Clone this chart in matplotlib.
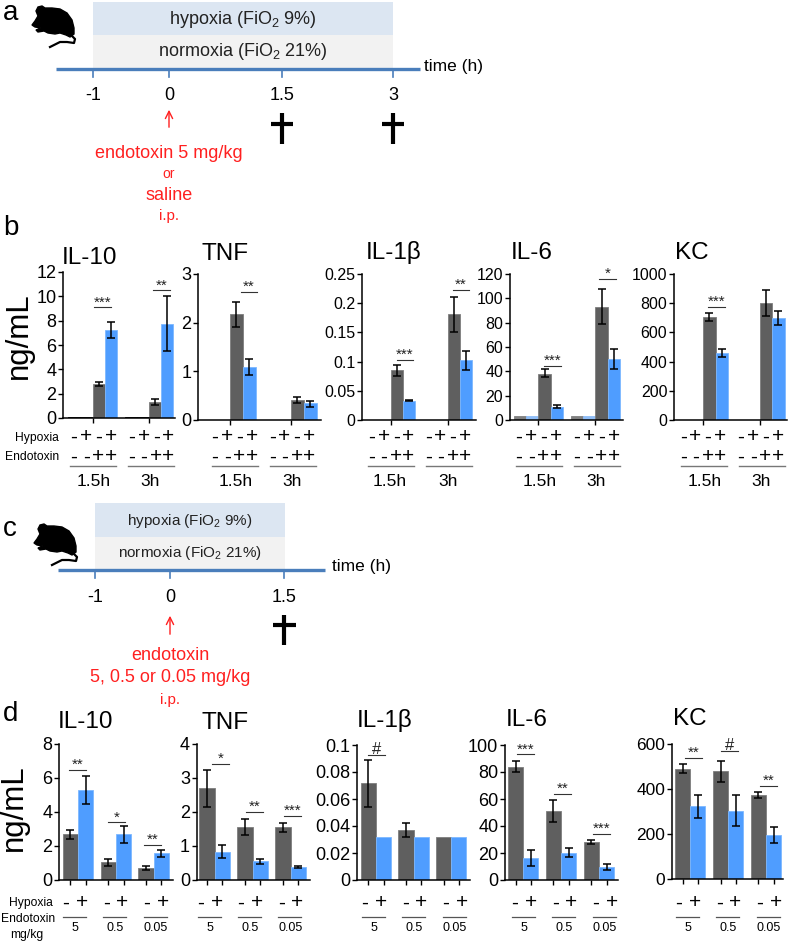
'''
Cytokines after endotoxin under hypoxia / normoxia
'''
import numpy as np
import matplotlib.pyplot as plt
from matplotlib.patches import Polygon, Rectangle

plt.rcParams[ 'font.family' ] = [ 'Liberation Sans', 'DejaVu Sans' ]
plt.rcParams[ 'mathtext.fontset' ] = 'custom'
plt.rcParams[ 'mathtext.rm' ] = 'Liberation Sans'
plt.rcParams[ 'mathtext.default' ] = 'rm'

W, H = 790, 942
GRAY, BLUE = '#5f5f5f', '#4f9dff'
GRAY_ND, BLUE_ND = '#808080', '#8fbdf7'
RED = '#ff2020'
LINE = '#4a7ebb'

# panel b : values are gray/blue pairs, 1.5h then 3h
b_names  = [ 'IL-10', 'TNF', 'IL-1β', 'IL-6', 'KC' ]
b_values = [ [ 0.1, 0.1, 2.8, 7.2, 0.1, 0.1, 1.3, 7.75 ],
             [ 0, 0, 2.17, 1.09, 0, 0, 0.41, 0.34 ],
             [ 0, 0, 0.085, 0.033, 0, 0, 0.181, 0.103 ],
             [ 3.5, 3.5, 38, 11, 3.5, 3.5, 93, 50 ],
             [ 0, 0, 705, 458, 0, 0, 800, 698 ] ]
b_low    = [ [ 0.1, 0.1, 2.6, 6.55, 0.1, 0.1, 1.05, 5.5 ],
             [ 0, 0, 1.92, 0.92, 0, 0, 0.34, 0.27 ],
             [ 0, 0, 0.076, 0.032, 0, 0, 0.151, 0.086 ],
             [ 3.5, 3.5, 35, 9.7, 3.5, 3.5, 79, 42 ],
             [ 0, 0, 675, 430, 0, 0, 710, 650 ] ]
b_high   = [ [ 0.1, 0.1, 3.0, 7.9, 0.1, 0.1, 1.55, 10.0 ],
             [ 0, 0, 2.42, 1.26, 0, 0, 0.47, 0.4 ],
             [ 0, 0, 0.094, 0.034, 0, 0, 0.211, 0.118 ],
             [ 3.5, 3.5, 42, 12.2, 3.5, 3.5, 108, 58 ],
             [ 0, 0, 735, 485, 0, 0, 893, 745 ] ]
b_ylim   = [ 12, 3, 0.25, 120, 1000 ]
b_ticks  = [ [ 0, 2, 4, 6, 8, 10, 12 ], [ 0, 1, 2, 3 ],
             [ 0, 0.05, 0.1, 0.15, 0.2, 0.25 ],
             [ 0, 20, 40, 60, 80, 100, 120 ],
             [ 0, 200, 400, 600, 800, 1000 ] ]
b_sig    = [ [ ( 0, 9.1, '***' ), ( 1, 10.5, '**' ) ],
             [ ( 0, 2.63, '**' ) ],
             [ ( 0, 0.103, '***' ), ( 1, 0.2226, '**' ) ],
             [ ( 0, 44.4, '***' ), ( 1, 116, '*' ) ],
             [ ( 0, 776, '***' ) ] ]
b_hypoxia   = [ '-', '+', '-', '+' ]
b_endotoxin = [ '-', '-', '+', '+' ]
b_times     = [ '1.5h', '3h' ]

# panel d : gray/blue pairs for 5, 0.5, 0.05 mg/kg
d_names  = [ 'IL-10', 'TNF', 'IL-1β', 'IL-6', 'KC' ]
d_values = [ [ 2.7, 5.3, 1.05, 2.7, 0.7, 1.58 ],
             [ 2.7, 0.83, 1.55, 0.55, 1.55, 0.38 ],
             [ 0.072, 0.032, 0.037, 0.032, 0.032, 0.032 ],
             [ 84, 16.5, 51, 20, 28, 9.5 ],
             [ 490, 325, 478, 303, 373, 195 ] ]
d_low    = [ [ 2.4, 4.5, 0.85, 2.2, 0.6, 1.35 ],
             [ 2.15, 0.65, 1.32, 0.47, 1.42, 0.35 ],
             [ 0.054, 0.032, 0.032, 0.032, 0.032, 0.032 ],
             [ 80, 10.5, 43, 17, 27, 7.5 ],
             [ 470, 273, 432, 235, 358, 158 ] ]
d_high   = [ [ 2.95, 6.1, 1.22, 3.2, 0.8, 1.78 ],
             [ 3.25, 1.03, 1.8, 0.63, 1.68, 0.41 ],
             [ 0.089, 0.032, 0.042, 0.032, 0.032, 0.032 ],
             [ 88, 22.5, 59.5, 23.5, 30, 12 ],
             [ 512, 375, 525, 373, 388, 233 ] ]
d_ylim   = [ 8, 4, 0.1, 100, 600 ]
d_ticks  = [ [ 0, 2, 4, 6, 8 ], [ 0, 1, 2, 3, 4 ],
             [ 0, 0.02, 0.04, 0.06, 0.08, 0.1 ],
             [ 0, 20, 40, 60, 80, 100 ], [ 0, 200, 400, 600 ] ]
d_sig    = [ [ ( 0, 6.47, '**' ), ( 1, 3.4, '*' ), ( 2, 2.05, '**' ) ],
             [ ( 0, 3.41, '*' ), ( 1, 2.0, '**' ), ( 2, 1.88, '***' ) ],
             [ ( 0, 0.0926, '#' ) ],
             [ ( 0, 93, '***' ), ( 1, 64, '**' ), ( 2, 34, '***' ) ],
             [ ( 0, 540, '**' ), ( 1, 568, '#' ), ( 2, 413, '**' ) ] ]
d_hypoxia = [ '-', '+' ]
d_doses   = [ '5', '0.5', '0.05' ]

# layout, in pixels of the 790x942 picture
b_boxes   = [ ( 63, 175, 418, 272 ), ( 198, 321, 420, 274 ), ( 362, 476, 420, 274 ),
              ( 510, 623, 420, 274 ), ( 674, 787, 420, 274 ) ]
b_starts  = [ ( 68.3, 125 ), ( 204.4, 265.4 ), ( 366, 423 ), ( 514, 571 ), ( 678.9, 735.7 ) ]
b_widths  = [ 12.1, 12.8, 12.3, 12.2, 12.2 ]
b_signs   = [ ( 74, 131.7 ), ( 215, 272.3 ), ( 371.7, 428.3 ), ( 519, 577 ), ( 683.3, 741 ) ]
b_lines   = [ ( 70, 128 ), ( 211.7, 270 ), ( 367.7, 425.7 ), ( 515.7, 574 ), ( 680.7, 739 ) ]
b_labels  = [ ( 94, 150 ), ( 236, 291.7 ), ( 390, 447.7 ), ( 540, 595.7 ), ( 705, 761 ) ]
b_title_x = [ ( 90, 258 ), ( 225, 254 ), ( 394, 252 ), ( 532, 253 ), ( 692, 253 ) ]
b_sig_x   = [ ( 94, 153 ), ( 240.7, 0 ), ( 396.7, 452.7 ), ( 544, 599 ), ( 708, 0 ) ]
b_tick_sz = [ 13, 13, 11.5, 11.5, 11.5 ]

d_boxes   = [ ( 59, 173, 880, 744 ), ( 196.7, 310, 880, 744 ), ( 357.3, 470, 880, 745 ),
              ( 505, 617.7, 880, 745 ), ( 671.7, 783, 879, 744 ) ]
d_starts  = [ ( 62.7, 100.7, 138.3 ), ( 199.3, 237.3, 275.3 ), ( 360.7, 398.3, 436 ),
              ( 508, 545.7, 583.7 ), ( 675, 713, 750.7 ) ]
d_signs   = [ 66, 200.7, 365, 515, 679 ]
d_title_x = [ ( 85, 722 ), ( 225, 723 ), ( 385, 720 ), ( 527, 720 ), ( 690, 719 ) ]
d_sig_x   = [ ( 69, 108, 144 ), ( 212, 245.7, 283.7 ), ( 368, 0, 0 ),
              ( 517, 553.7, 593 ), ( 685, 720.7, 760 ) ]
d_tick_sz = [ 13, 13, 13, 13, 12.5 ]

mouse_body = [ ( 32, 25 ), ( 35, 21 ), ( 38, 16 ), ( 36, 11 ), ( 38, 7 ), ( 42, 6 ), ( 45, 8 ),
               ( 52, 8 ), ( 60, 9 ), ( 67, 13 ), ( 72, 20 ), ( 74, 28 ), ( 74, 34 ), ( 70, 37 ),
               ( 66, 35 ), ( 60, 33 ), ( 55, 34 ), ( 48, 33 ), ( 44, 31 ), ( 38, 32 ), ( 36, 30 ),
               ( 41, 28 ), ( 35, 27 ) ]
mouse_tail = [ ( 71, 35 ), ( 75, 39 ), ( 74, 43 ), ( 67, 42 ), ( 60, 42 ), ( 50, 47 ) ]


def make_axes( fig, box ):
    left, right, y0, ytop = box
    ax = fig.add_axes( [ left / W, 1 - y0 / H, ( right - left ) / W, ( y0 - ytop ) / H ] )
    ax.patch.set_alpha( 0 )
    ax.spines[ 'top' ].set_visible( False )
    ax.spines[ 'right' ].set_visible( False )
    ax.spines[ 'left' ].set_linewidth( 1.1 )
    ax.spines[ 'bottom' ].set_linewidth( 1.1 )
    # x runs in pixels so that bars land where the reference has them
    ax.set_xlim( left, right )
    return ax


def draw_bars( ax, xs, vals, low, high, width, colors ):
    vals, low, high = np.array( vals ), np.array( low ), np.array( high )
    edges = [ '#7d7d7d' if c == GRAY else '#7db8ff' if c == BLUE else c for c in colors ]
    ax.bar( xs, vals, width = width, color = colors, align = 'edge',
            edgecolor = edges, linewidth = 0.6 )
    shown = high > low
    ax.errorbar( xs[ shown ] + width / 2, vals[ shown ],
                 yerr = [ vals[ shown ] - low[ shown ], high[ shown ] - vals[ shown ] ],
                 fmt = 'none', ecolor = 'black', elinewidth = 1.1, capsize = 2.8,
                 capthick = 1.1, zorder = 5 )


def finish_y( ax, ymax, ticks, size ):
    ax.set_ylim( 0, ymax )
    ax.set_yticks( ticks )
    ax.set_yticklabels( [ '{0:g}'.format( t ) for t in ticks ] )
    ax.tick_params( axis = 'y', labelsize = size, length = 3.6, width = 1.0, pad = 1.2 )
    ax.tick_params( axis = 'x', length = 3.6, width = 1.0, labelbottom = False )


def draw_sig( ax, x, y, text, span ):
    ax.plot( [ x, x + span ], [ y, y ], color = '#333333', lw = 0.8,
             clip_on = False, zorder = 6 )
    ax.annotate( text, ( x + span / 2, y ), xytext = ( 0, -1.5 ),
                 textcoords = 'offset points', ha = 'center', va = 'bottom',
                 fontsize = 12 if text == '#' else 11, color = '#222222',
                 annotation_clip = False )


def dagger( ov, x, top, bottom, cross, half ):
    ov.plot( [ x, x ], [ top, bottom ], color = 'black', lw = 3, solid_capstyle = 'butt' )
    ov.plot( [ x - half, x + half ], [ cross, cross ], color = 'black', lw = 3,
             solid_capstyle = 'butt' )


def mouse( ov, dx, dy ):
    ov.add_patch( Polygon( [ ( x + dx, y + dy ) for x, y in mouse_body ], color = 'black' ) )
    ov.plot( [ x + dx for x, y in mouse_tail ], [ y + dy for x, y in mouse_tail ],
             color = 'black', lw = 1.6 )


def timeline( ov, x0, x1, x_rects, y_top, y_mid, y_axis, ticks, tick_labels, label_y,
              time_x, size ):
    ov.add_patch( Rectangle( ( x_rects[ 0 ], y_top ), x_rects[ 1 ] - x_rects[ 0 ], y_mid - y_top,
                             color = '#dce6f2', lw = 0 ) )
    ov.add_patch( Rectangle( ( x_rects[ 0 ], y_mid ), x_rects[ 1 ] - x_rects[ 0 ], y_axis - y_mid,
                             color = '#f2f2f2', lw = 0 ) )
    mid = sum( x_rects ) / 2
    ov.text( mid, ( y_top + y_mid ) / 2 + 1, r'hypoxia (FiO$_2$ 9%)', ha = 'center',
             va = 'center', fontsize = size, color = '#222222' )
    ov.text( mid, ( y_mid + y_axis ) / 2, r'normoxia (FiO$_2$ 21%)', ha = 'center',
             va = 'center', fontsize = size, color = '#222222' )
    ov.plot( [ x0, x1 ], [ y_axis, y_axis ], color = LINE, lw = 2.4, solid_capstyle = 'butt' )
    for x, lab in zip( ticks, tick_labels ):
        ov.plot( [ x, x ], [ y_axis, y_axis + 8 ], color = LINE, lw = 1.2 )
        ov.text( x, label_y, lab, ha = 'center', va = 'center', fontsize = 13 )
    ov.text( time_x, y_axis - 3, 'time (h)', ha = 'left', va = 'center', fontsize = 12.5 )


if __name__ == '__main__':
    fig = plt.figure( figsize = ( W / 100, H / 100 ), dpi = 100 )
    ov = fig.add_axes( [ 0, 0, 1, 1 ] )
    ov.set_xlim( 0, W )
    ov.set_ylim( H, 0 )
    ov.axis( 'off' )
    ov.set_zorder( 10 )
    ov.patch.set_alpha( 0 )

    for letter, y in zip( 'abcd', [ 20, 235, 536, 721 ] ):
        ov.text( 3, y, letter, fontsize = 20, ha = 'left', va = 'baseline' )

    # panel a
    timeline( ov, 56, 420, ( 93, 393 ), 2, 35, 69, [ 93, 169, 282, 393 ],
              [ '-1', '0', '1.5', '3' ], 96, 424, 13 )
    mouse( ov, 0, 0 )
    ov.annotate( '', xy = ( 169, 107 ), xytext = ( 169, 130 ),
                 arrowprops = dict( arrowstyle = '->', color = RED, lw = 1, mutation_scale = 13 ) )
    dagger( ov, 282, 113, 144, 124, 11 )
    dagger( ov, 393, 113, 144, 124, 11 )
    ov.text( 169, 154, 'endotoxin 5 mg/kg', color = RED, ha = 'center', va = 'center', fontsize = 13 )
    ov.text( 169, 174, 'or', color = RED, ha = 'center', va = 'center', fontsize = 10 )
    ov.text( 169, 195, 'saline', color = RED, ha = 'center', va = 'center', fontsize = 13 )
    ov.text( 169, 216, 'i.p.', color = RED, ha = 'center', va = 'center', fontsize = 11 )

    # panel c
    timeline( ov, 58, 325, ( 95, 285 ), 503, 537, 570, [ 95, 170, 284 ],
              [ '-1', '0', '1.5' ], 598, 332, 11 )
    mouse( ov, 2, 518 )
    ov.annotate( '', xy = ( 170, 613 ), xytext = ( 170, 637 ),
                 arrowprops = dict( arrowstyle = '->', color = RED, lw = 1, mutation_scale = 13 ) )
    dagger( ov, 284, 615, 645, 625, 11.5 )
    ov.text( 170, 656, 'endotoxin', color = RED, ha = 'center', va = 'center', fontsize = 13 )
    ov.text( 170, 678, '5, 0.5 or 0.05 mg/kg', color = RED, ha = 'center', va = 'center', fontsize = 13 )
    ov.text( 170, 700, 'i.p.', color = RED, ha = 'center', va = 'center', fontsize = 11 )

    # panel b
    for i, name in enumerate( b_names ):
        ax = make_axes( fig, b_boxes[ i ] )
        w = b_widths[ i ]
        xs = np.concatenate( [ s + w * np.arange( 4 ) for s in b_starts[ i ] ] )
        colors = [ GRAY, BLUE ] * 4
        if name == 'IL-6':
            colors[ 0 ], colors[ 1 ], colors[ 4 ], colors[ 5 ] = GRAY_ND, BLUE_ND, GRAY_ND, BLUE_ND
        if name == 'IL-10':
            colors[ 0 ], colors[ 1 ], colors[ 4 ], colors[ 5 ] = 'black', 'black', 'black', 'black'
        draw_bars( ax, xs, b_values[ i ], b_low[ i ], b_high[ i ], w, colors )
        finish_y( ax, b_ylim[ i ], b_ticks[ i ], b_tick_sz[ i ] )
        ax.set_xticks( [ s + 2 * w for s in b_starts[ i ] ] )
        for group, y, text in b_sig[ i ]:
            draw_sig( ax, b_sig_x[ i ][ group ], y, text, 16.5 )

        tx, ty = b_title_x[ i ]
        ov.text( tx, ty, name, fontsize = 17.5, ha = 'center', va = 'center' )
        for g in range( 2 ):
            for k in range( 4 ):
                sx = b_signs[ i ][ g ] + 12.2 * k
                ov.text( sx, 437, b_hypoxia[ k ], fontsize = 15, ha = 'center', va = 'center' )
                ov.text( sx, 457, b_endotoxin[ k ], fontsize = 15, ha = 'center', va = 'center' )
            lx = b_lines[ i ][ g ]
            ov.plot( [ lx, lx + 46 ], [ 466, 466 ], color = '#777777', lw = 1 )
            ov.text( b_labels[ i ][ g ], 481, b_times[ g ], fontsize = 12.5, ha = 'center', va = 'center' )

    ov.text( 59, 438, 'Hypoxia', fontsize = 8.7, ha = 'right', va = 'center' )
    ov.text( 59, 457, 'Endotoxin', fontsize = 8.7, ha = 'right', va = 'center' )
    ov.text( 19, 336, 'ng/mL', fontsize = 22.5, rotation = 90, ha = 'center', va = 'center' )

    # panel d
    for i, name in enumerate( d_names ):
        ax = make_axes( fig, d_boxes[ i ] )
        w = 15.2
        xs = np.concatenate( [ s + w * np.arange( 2 ) for s in d_starts[ i ] ] )
        draw_bars( ax, xs, d_values[ i ], d_low[ i ], d_high[ i ], w, [ GRAY, BLUE ] * 3 )
        finish_y( ax, d_ylim[ i ], d_ticks[ i ], d_tick_sz[ i ] )
        ax.set_xticks( xs + w / 2 )
        for group, y, text in d_sig[ i ]:
            draw_sig( ax, d_sig_x[ i ][ group ], y, text, 17 )

        tx, ty = d_title_x[ i ]
        ov.text( tx, ty, name, fontsize = 17.5, ha = 'center', va = 'center' )
        for g in range( 3 ):
            sx = d_signs[ i ] + 40.3 * g
            ov.text( sx, 903, d_hypoxia[ 0 ], fontsize = 15, ha = 'center', va = 'center' )
            ov.text( sx + 16, 903, d_hypoxia[ 1 ], fontsize = 15, ha = 'center', va = 'center' )
            ov.plot( [ sx - 3, sx + 20 ], [ 917, 917 ], color = '#555555', lw = 0.9 )
            ov.text( sx + 9, 928, d_doses[ g ], fontsize = 9, ha = 'center', va = 'center' )

    ov.text( 53, 903, 'Hypoxia', fontsize = 8.7, ha = 'right', va = 'center' )
    ov.text( 1, 919, 'Endotoxin', fontsize = 8.7, ha = 'left', va = 'center' )
    ov.text( 27, 935, 'mg/kg', fontsize = 8.7, ha = 'center', va = 'center' )
    ov.text( 14, 808, 'ng/mL', fontsize = 22.5, rotation = 90, ha = 'center', va = 'center' )

    fig.savefig( 'out.png', dpi = 100 )
